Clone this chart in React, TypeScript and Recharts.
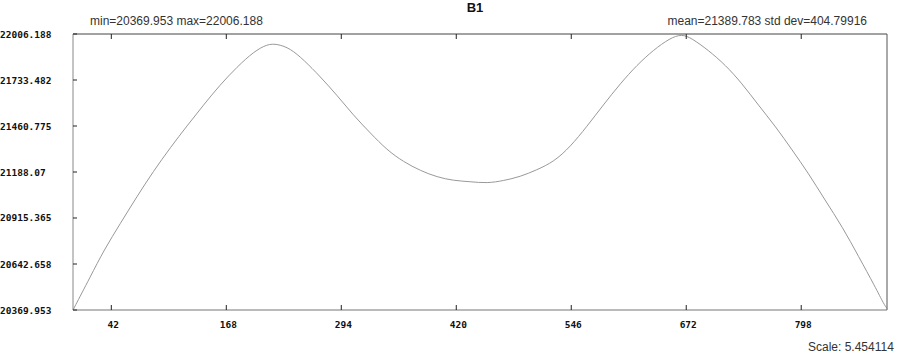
import { LineChart, Line, XAxis, YAxis } from 'recharts';

const XS = [
  0, 19, 34, 52, 70, 88, 107, 125, 143, 161, 180, 198, 213, 224, 238, 253, 271,
  289, 307, 326, 344, 362, 381, 399, 417, 435, 454, 472, 490, 508, 527, 545, 563,
  581, 600, 618, 636, 654, 667, 678, 696, 715, 733, 751, 770, 788, 806, 824, 843,
  861, 879, 889, 892,
];

const VALUES = [
  20369.953, 20567, 20726, 20884, 21042, 21192, 21335, 21462, 21585, 21704, 21812,
  21901, 21947, 21947, 21921, 21852, 21753, 21645, 21526, 21418, 21319, 21249,
  21195, 21158, 21137, 21131, 21121, 21137, 21160, 21200, 21249, 21338, 21457,
  21585, 21714, 21822, 21911, 21981, 22006.188, 21981, 21911, 21822, 21714, 21585,
  21457, 21319, 21180, 21022, 20864, 20686, 20508, 20400, 20380,
];

const X_TICKS = [42, 168, 294, 420, 546, 672, 798];
const Y_TICK_LABELS = [
  '20369.953',
  '20642.658',
  '20915.365',
  '21188.07',
  '21460.775',
  '21733.482',
  '22006.188',
];
const Y_TICKS = Y_TICK_LABELS.map(Number);

const TITLE = 'B1';
const STATS_LEFT = 'min=20369.953 max=22006.188';
const STATS_RIGHT = 'mean=21389.783 std dev=404.79916';
const SCALE_TEXT = 'Scale: 5.454114';

const data = XS.map((x, i) => ({ x, value: VALUES[i] }));

const tickFont = {
  fontFamily: '"DejaVu Sans Mono", monospace',
  fontSize: 9.5,
  fontWeight: 'bold' as const,
  fill: '#111',
};

const YTick = (props: any) => {
  const { y, payload } = props;
  const idx = Y_TICKS.indexOf(payload.value);
  return (
    <text x={0} y={y} dy={3.5} textAnchor="start" {...tickFont}>
      {idx >= 0 ? Y_TICK_LABELS[idx] : payload.value}
    </text>
  );
};

const XTick = (props: any) => {
  const { x, y, payload } = props;
  return (
    <text x={x + 2} y={y + 10} textAnchor="middle" {...tickFont}>
      {payload.value}
    </text>
  );
};

const textStyle = {
  position: 'absolute' as const,
  fontFamily: '"Liberation Sans", Arial, sans-serif',
  fontSize: 12,
  lineHeight: '12px',
  color: '#333',
  whiteSpace: 'nowrap' as const,
};

export default function App() {
  const yDomain = [Y_TICKS[0], Y_TICKS[Y_TICKS.length - 1]];
  return (
    <div
      style={{
        position: 'absolute',
        left: 0,
        top: 0,
        width: 900,
        height: 354,
        background: '#fff',
        overflow: 'hidden',
      }}
    >
      <LineChart
        width={900}
        height={354}
        data={data}
        margin={{ top: 4, right: 0, bottom: 0, left: 0 }}
      >
        <XAxis
          xAxisId="b"
          dataKey="x"
          type="number"
          domain={[0, 892]}
          ticks={X_TICKS}
          height={44}
          axisLine={{ stroke: '#777' }}
          tickLine={{ stroke: '#222' }}
          tickSize={-5}
          tickMargin={13}
          tick={<XTick />}
          interval={0}
        />
        <XAxis
          xAxisId="t"
          orientation="top"
          dataKey="x"
          type="number"
          domain={[0, 892]}
          ticks={X_TICKS}
          height={30}
          axisLine={{ stroke: '#444' }}
          tickLine={{ stroke: '#222' }}
          tickSize={-5}
          tick={() => <g />}
          interval={0}
        />
        <YAxis
          yAxisId="l"
          type="number"
          domain={yDomain}
          ticks={Y_TICKS}
          width={73}
          axisLine={{ stroke: '#888' }}
          tickLine={{ stroke: '#222' }}
          tickSize={-4}
          tick={<YTick />}
          interval={0}
        />
        <YAxis
          yAxisId="r"
          orientation="right"
          type="number"
          domain={yDomain}
          width={13}
          axisLine={{ stroke: '#555' }}
          tickLine={false}
          tick={false}
        />
        <Line
          xAxisId="b"
          yAxisId="l"
          dataKey="value"
          type="basis"
          stroke="#999"
          strokeWidth={1}
          dot={false}
          isAnimationActive={false}
        />
      </LineChart>
      <div
        style={{
          ...textStyle,
          left: 0,
          width: 900,
          top: 1,
          textAlign: 'center',
          fontWeight: 'bold',
          fontSize: 13,
          lineHeight: '13px',
          color: '#111',
          paddingLeft: 50,
          boxSizing: 'border-box',
        }}
      >
        {TITLE}
      </div>
      <div style={{ ...textStyle, left: 90, top: 15 }}>{STATS_LEFT}</div>
      <div style={{ ...textStyle, right: 33, top: 15 }}>{STATS_RIGHT}</div>
      <div style={{ ...textStyle, left: 808, top: 341 }}>{SCALE_TEXT}</div>
    </div>
  );
}
